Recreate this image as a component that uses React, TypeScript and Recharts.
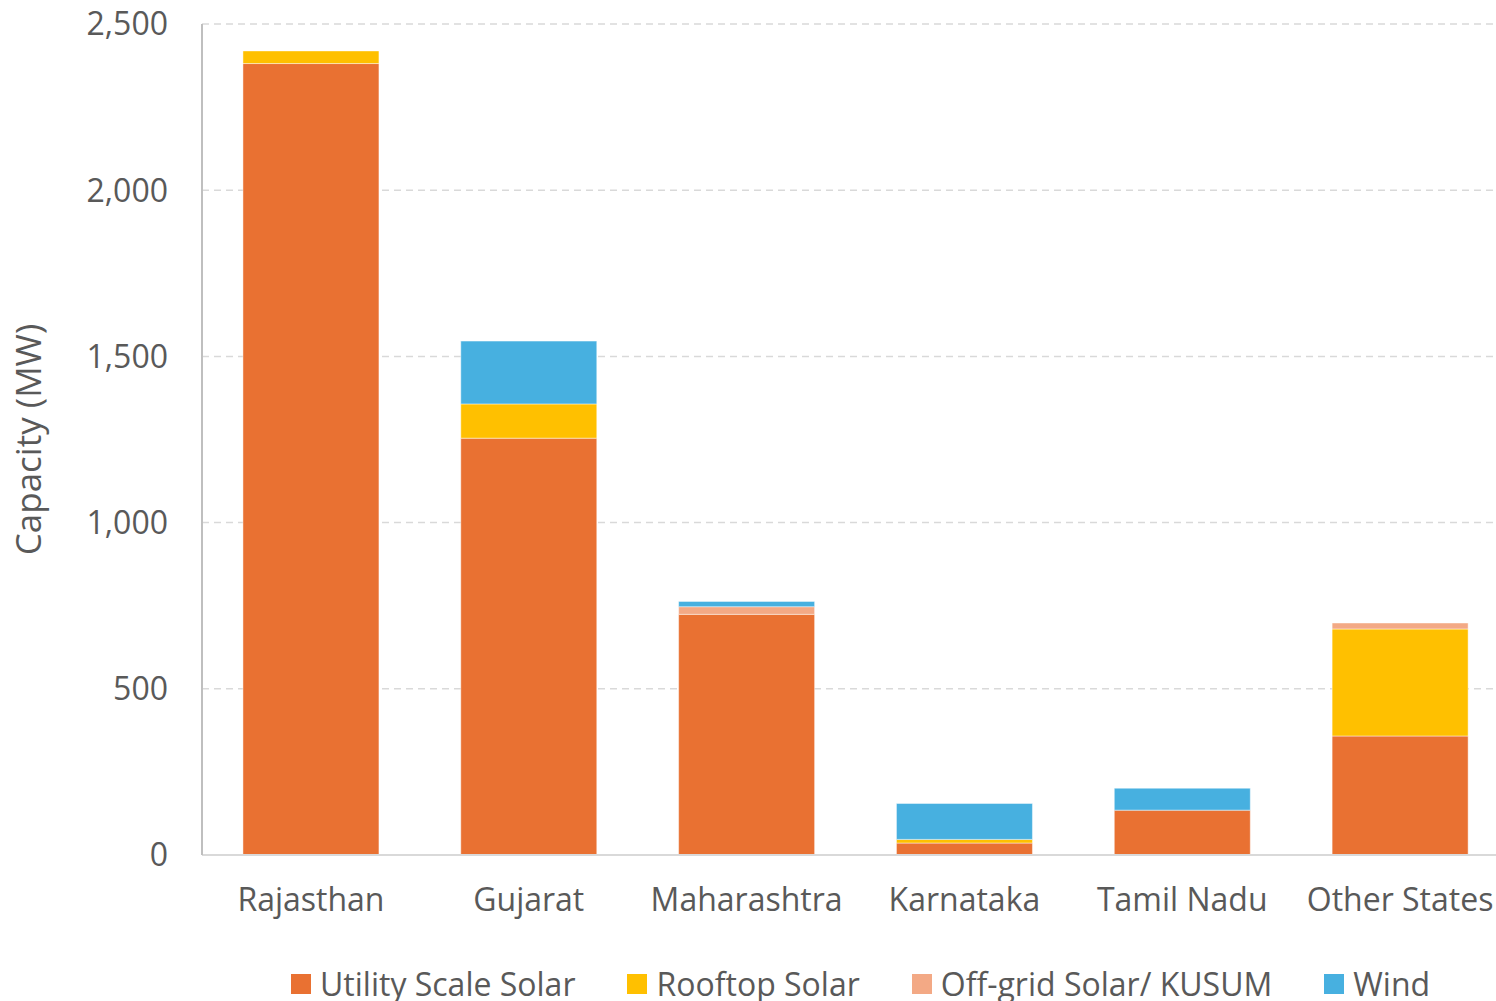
import { Bar, BarChart, CartesianGrid, Legend, XAxis, YAxis } from 'recharts'

const states = ['Rajasthan', 'Gujarat', 'Maharashtra', 'Karnataka', 'Tamil Nadu', 'Other States']
const utilityScale = [2381, 1254, 724, 36, 135, 358]
const rooftop = [38, 103, 0, 11, 0, 322]
const offGrid = [0, 0, 23, 0, 0, 18]
const wind = [0, 189, 16, 108, 66, 0]
const yTicks = [0, 500, 1000, 1500, 2000, 2500]

const series = [
  { key: 'utility', name: 'Utility Scale Solar', color: '#E97132' },
  { key: 'rooftop', name: 'Rooftop Solar', color: '#FFC000' },
  { key: 'offgrid', name: 'Off-grid Solar/ KUSUM', color: '#F3A985' },
  { key: 'wind', name: 'Wind', color: '#47B0E0' }
]

const chartData = states.map((name, i) => ({
  name,
  utility: utilityScale[i],
  rooftop: rooftop[i],
  offgrid: offGrid[i],
  wind: wind[i]
}))

const font = '"Open Sans", sans-serif'
const textColor = '#595959'

function LegendRow() {
  return (
    <div style={{ display: 'flex', paddingLeft: 291, gap: 52, alignItems: 'center', fontFamily: font, fontSize: 32, color: textColor, lineHeight: '40px' }}>
      {series.map((s) => (
        <div key={s.key} style={{ display: 'flex', alignItems: 'center', gap: 9 }}>
          <span style={{ width: 20, height: 20, background: s.color, display: 'inline-block' }} />
          <span>{s.name}</span>
        </div>
      ))}
    </div>
  )
}

export default function App() {
  // the plot runs a little past the right edge of the frame, as in the source image
  return (
    <div style={{ width: 1496, height: 1001, background: '#fff', overflow: 'hidden', position: 'relative' }}>
      <style>{`body { margin: 0; }`}</style>
      <BarChart
        width={1509}
        height={1001}
        data={chartData}
        margin={{ top: 24, right: 0, left: 0, bottom: 0 }}
        barCategoryGap="18.8%"
        style={{ fontFamily: font }}
      >
        <CartesianGrid strokeDasharray="7 5" vertical={false} stroke="#d9d9d9" strokeWidth={1.5} />
        <XAxis
          dataKey="name"
          height={106}
          tickLine={false}
          axisLine={{ stroke: '#d9d9d9', strokeWidth: 2 }}
          tickMargin={27}
          tick={{ fill: textColor, fontSize: 32 }}
          interval={0}
        />
        <YAxis
          width={202}
          domain={[0, 2500]}
          ticks={yTicks}
          tickLine={false}
          axisLine={{ stroke: '#bfbfbf', strokeWidth: 2 }}
          tickMargin={28}
          tick={{ fill: textColor, fontSize: 32 }}
          tickFormatter={(v) => Number(v).toLocaleString('en-US')}
          label={{
            value: 'Capacity (MW)',
            angle: -90,
            position: 'insideLeft',
            offset: 29,
            style: { textAnchor: 'middle', fill: textColor, fontSize: 35, fontFamily: font }
          }}
        />
        <Legend
          verticalAlign="bottom"
          wrapperStyle={{ left: 0, width: 1496, bottom: -3, height: 40 }}
          content={() => <LegendRow />}
        />
        {series.map((s) => (
          <Bar
            key={s.key}
            dataKey={s.key}
            name={s.name}
            stackId="a"
            fill={s.color}
            stroke="rgba(255,255,255,0.45)"
            strokeWidth={1}
            isAnimationActive={false}
          />
        ))}
      </BarChart>
    </div>
  )
}
